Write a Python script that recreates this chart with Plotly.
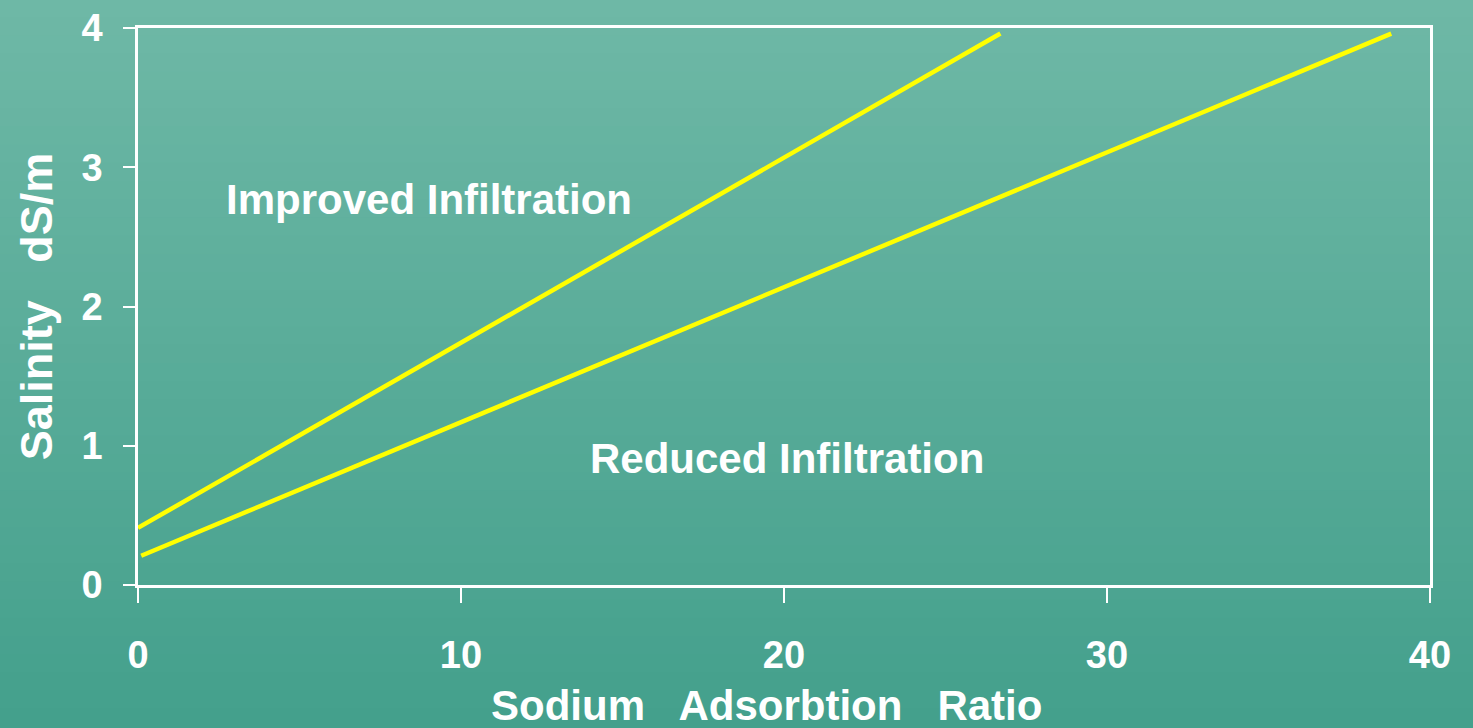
import plotly.graph_objects as go

# Data
sar_improved = [0, 26.7]
ec_improved = [0.41, 3.96]
sar_reduced = [0.1, 38.8]
ec_reduced = [0.21, 3.96]
x_ticks = [0, 10, 20, 30, 40]
y_ticks = [0, 1, 2, 3, 4]
region_labels = ["Improved Infiltration", "Reduced Infiltration"]
region_x = [9.0, 20.1]
region_y = [2.77, 0.91]
x_title = "Sodium   Adsorbtion   Ratio"
y_title = "Salinity   dS/m"

W, H = 1473, 728
ml, mr, mt, mb = 138, 43, 28, 143
pw, ph = W - ml - mr, H - mt - mb

FONT = "Liberation Sans, Arial, sans-serif"
yellow = "#ffff00"

fig = go.Figure()
fig.add_trace(go.Scatter(x=sar_improved, y=ec_improved, mode="lines",
                         line=dict(color=yellow, width=4.5), showlegend=False, hoverinfo="skip"))
fig.add_trace(go.Scatter(x=sar_reduced, y=ec_reduced, mode="lines",
                         line=dict(color=yellow, width=4.5), showlegend=False, hoverinfo="skip"))

for txt, xx, yy in zip(region_labels, region_x, region_y):
    fig.add_annotation(x=xx, y=yy, text=txt, showarrow=False,
                       font=dict(family=FONT, size=42, color="white", weight="bold"),
                       xanchor="center", yanchor="middle")

title_font = dict(family=FONT, size=42, color="white", weight="bold")
# x-axis title (placed as annotation to match the reference's position)
fig.add_annotation(xref="paper", yref="paper", x=(766 - ml) / pw, y=-(705 - (H - mb)) / ph,
                   text=x_title, showarrow=False, font=title_font,
                   xanchor="center", yanchor="middle")

# background gradient bands (teal water look)
top = (110, 184, 166)
bot = (68, 160, 140)
n = 40
x0p, x1p = -ml / pw, 1 + mr / pw
y0p, y1p = -mb / ph, 1 + mt / ph
for i in range(n):
    t = i / (n - 1)
    c = tuple(round(top[k] + (bot[k] - top[k]) * t) for k in range(3))
    ya = y1p - (y1p - y0p) * i / n
    yb = y1p - (y1p - y0p) * (i + 1) / n
    fig.add_shape(type="rect", xref="paper", yref="paper", x0=x0p, x1=x1p,
                  y0=yb, y1=ya + 0.002, fillcolor="rgb(%d,%d,%d)" % c,
                  line=dict(width=0), layer="below")

axis_font = dict(family=FONT, size=38, color="white", weight="bold")

fig.update_xaxes(range=[0, 40], tickvals=x_ticks, showgrid=False, zeroline=False,
                 showline=True, mirror=True, linecolor="white", linewidth=2.5,
                 ticks="outside", ticklen=15, tickwidth=1.5, tickcolor="white",
                 tickfont=axis_font, ticklabelstandoff=20,
                 automargin=False)
fig.update_yaxes(range=[0, 4], tickvals=y_ticks, showgrid=False, zeroline=False,
                 showline=True, mirror=True, linecolor="white", linewidth=2.5,
                 ticks="outside", ticklen=12, tickwidth=1.5, tickcolor="white",
                 tickfont=axis_font, ticklabelstandoff=13,
                 title=dict(text=y_title, font=dict(family=FONT, size=45, color="white", weight="bold"),
                            standoff=15),
                 automargin=False)

fig.update_layout(width=W, height=H, margin=dict(l=ml, r=mr, t=mt, b=mb),
                  paper_bgcolor="rgb(78,166,148)", plot_bgcolor="rgba(0,0,0,0)",
                  font=dict(family=FONT, color="white"))

fig.write_html("out.html", config={"displayModeBar": False},
               post_script="document.body.style.margin='0';")
